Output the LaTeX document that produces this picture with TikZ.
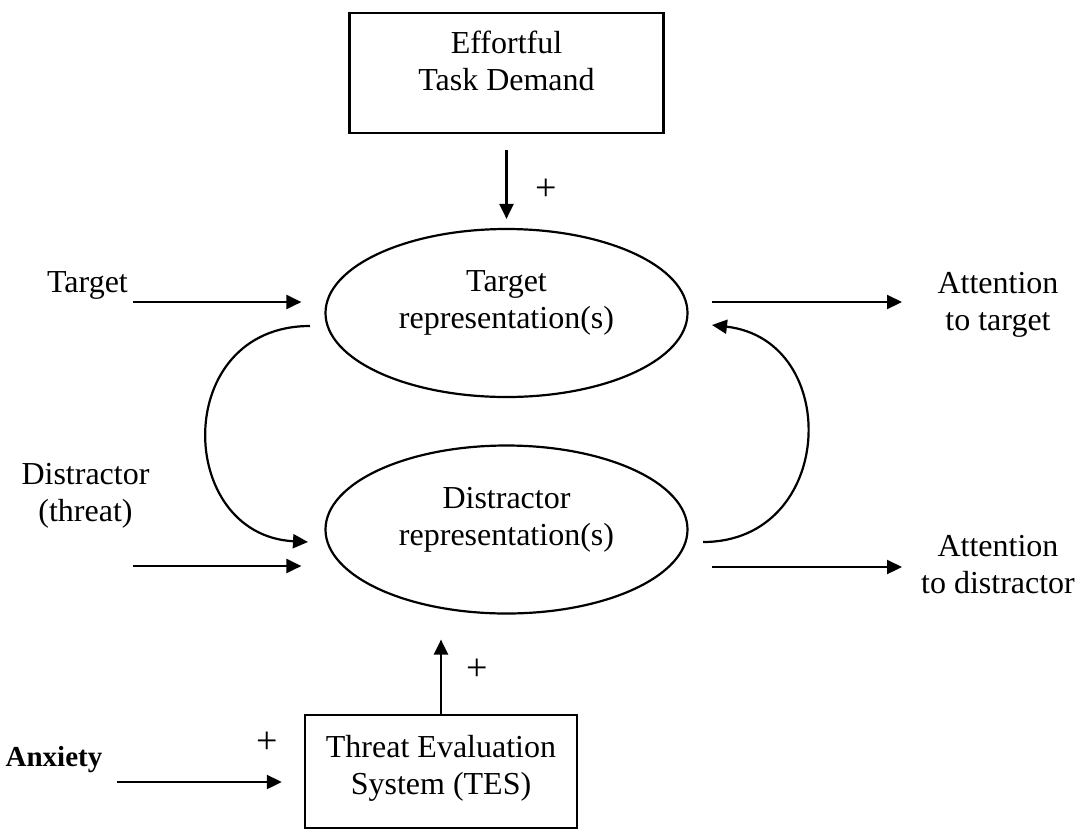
\documentclass[tikz,border=0pt]{standalone}
\usepackage{fontspec}
\setmainfont{Liberation Serif}
\usetikzlibrary{arrows.meta,shapes.geometric}
\begin{document}
\begin{tikzpicture}[x=0.5pt,y=-0.5pt,
  lbl/.style={font=\fontsize{16pt}{18.5pt}\selectfont, align=center, inner sep=0pt},
  boxnode/.style={draw, line width=1.2pt, inner sep=0pt},
  oval/.style={draw, ellipse, line width=1.1pt, minimum width=181pt, minimum height=84pt, inner sep=0pt},
  link/.style={line width=1.1pt, -{Triangle[length=7.5pt,width=7pt]}},
  plus/.style={font=\fontsize{19pt}{20pt}\selectfont, inner sep=0pt}]
\useasboundingbox (0,0) rectangle (1078,832);

% boxes and ovals
\node[boxnode, minimum width=157pt, minimum height=60pt] (effort) at (506.5,73) {};
\node[boxnode, minimum width=136pt, minimum height=56.5pt] (tes) at (441,771.5) {};
\node[oval] (tgt) at (506.5,313) {};
\node[oval] (dst) at (506.5,529.5) {};

% texts
\node[lbl] (effortTxt) at (506.5,61) {Effortful\\Task Demand};
\node[lbl] (tgtTxt) at (506.5,302.6) {Target\\representation(s)};
\node[lbl] (dstTxt) at (506.5,519.6) {Distractor\\representation(s)};
\node[lbl] (tesTxt) at (441,768) {Threat Evaluation\\System (TES)};
\node[lbl] (target) at (87.5,285.8) {Target};
\node[lbl] (distractor) at (85.5,495.5) {Distractor\\(threat)};
\node[lbl] (attT) at (998,304.4) {Attention\\to target};
\node[lbl] (attD) at (998,564.5) {Attention\\to distractor};
\node[lbl, font=\fontsize{14.5pt}{18.5pt}\selectfont\bfseries] (anx) at (54,760) {Anxiety};
\node[plus] (plusTop) at (546,190) {+};
\node[plus] (plusTes) at (477,670) {+};
\node[plus] (plusAnx) at (267,743) {+};

% free ends of the input and output arrows
\coordinate (tgtFrom) at (133,302);
\coordinate (dstFrom) at (133,566);
\coordinate (attTto) at (902,302);
\coordinate (attDto) at (902,567);
\coordinate (anxFrom) at (117,782);
\coordinate (loopL1) at (310,326);
\coordinate (loopL2) at (308,542);
\coordinate (loopR1) at (703,542);
\coordinate (loopR2) at (712,325);

% vertical influences
\draw[link, shorten <=8pt, shorten >=4.5pt] (effort.south) -- (tgt.north);
\draw[link, shorten >=12.5pt] (tes.north) -- (tes.north |- dst.south);

% inputs
\draw[link, shorten >=11.5pt] (tgtFrom) -- (tgtFrom -| tgt.west);
\draw[link, shorten >=11.5pt] (dstFrom) -- (dstFrom -| dst.west);
\draw[link, shorten >=11pt] (anxFrom) -- (anxFrom -| tes.west);

% outputs
\draw[link, shorten <=11.5pt] (attTto -| tgt.east) -- (attTto);
\draw[link, shorten <=11.5pt] (attDto -| dst.east) -- (attDto);

% mutual links between the representations
\draw[link] (loopL1) .. controls (171,326) and (175,535) .. (loopL2);
\draw[link] (loopR1) .. controls (836,542) and (843,340) .. (loopR2);
\end{tikzpicture}
\end{document}
